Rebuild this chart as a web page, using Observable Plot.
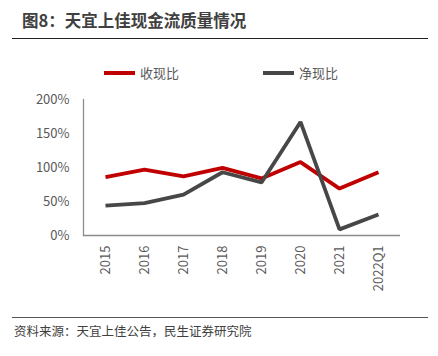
<!DOCTYPE html>
<html><head><meta charset="utf-8">
<script src="https://cdn.jsdelivr.net/npm/d3@7"></script>
<script src="https://cdn.jsdelivr.net/npm/@observablehq/plot@0.6"></script>
<style>
body{margin:0;background:#fff;font-family:"Noto Sans CJK SC","Noto Sans",sans-serif;}
#wrap{position:relative;width:438px;height:356px;overflow:hidden;}
.abs{position:absolute;white-space:nowrap;}
</style></head>
<body><div id="wrap"></div>
<script>
const categories = ["2015","2016","2017","2018","2019","2020","2021","2022Q1"];
const cashRatio = [0.86, 0.97, 0.87, 0.995, 0.84, 1.08, 0.69, 0.93];   // 收现比
const netRatio  = [0.44, 0.475, 0.60, 0.93, 0.78, 1.67, 0.09, 0.31];  // 净现比
const yTicks = [0, 0.5, 1, 1.5, 2];
const seriesNames = ["收现比", "净现比"];
const colors = ["#C00000", "#474747"];

const data = [];
categories.forEach((c, i) => {
  data.push({cat: c, v: cashRatio[i], s: seriesNames[0]});
  data.push({cat: c, v: netRatio[i], s: seriesNames[1]});
});

const plot = Plot.plot({
  width: 438, height: 356,
  marginLeft: 83, marginRight: 38, marginTop: 99, marginBottom: 121,
  style: {fontFamily: '"Noto Sans CJK SC","Noto Sans",sans-serif', fontSize: "13px", color: "#595959", background: "transparent"},
  x: {type: "point", domain: categories, padding: 0.5},
  y: {domain: [0, 2]},
  color: {domain: seriesNames, range: colors},
  marks: [
    Plot.frame({anchor: "left", stroke: "#8c8c8c", strokeWidth: 1.3}),
    Plot.ruleY([0], {stroke: "#8c8c8c", strokeWidth: 1.3}),
    Plot.axisY({ticks: yTicks, tickSize: 0, tickPadding: 14, tickFormat: d => Math.round(d * 100) + "%", label: null, fontSize: 13}),
    Plot.axisX({tickSize: 0, tickPadding: 10, tickRotate: -90, label: null, fontSize: 13}),
    Plot.line(data, {x: "cat", y: "v", z: "s", stroke: "s", strokeWidth: 3.8, strokeLinejoin: "miter", strokeLinecap: "butt"})
  ]
});
const wrap = document.getElementById("wrap");
plot.style.position = "absolute";
plot.style.left = "0px";
plot.style.top = "0px";
wrap.appendChild(plot);

function addDiv(html, css) {
  const d = document.createElement("div");
  d.className = "abs";
  d.innerHTML = html;
  Object.assign(d.style, css);
  wrap.appendChild(d);
  return d;
}
// title
addDiv("图8：天宜上佳现金流质量情况", {left: "22px", top: "9px", fontSize: "16.5px", fontWeight: "bold", color: "#404040", lineHeight: "22px"});
addDiv("", {left: "12px", top: "38px", width: "416px", height: "0px", borderTop: "1.3px solid #222"});
// legend
const legX = [104, 263];
seriesNames.forEach((n, i) => {
  addDiv("", {left: legX[i] + "px", top: "71px", width: "31px", height: "4px", background: colors[i]});
  addDiv(n, {left: (legX[i] + 36) + "px", top: "64px", fontSize: "13px", color: "#595959", lineHeight: "18px"});
});
// footer
addDiv("", {left: "12px", top: "317px", width: "416px", height: "0px", borderTop: "1px solid #555"});
addDiv("资料来源：天宜上佳公告，民生证券研究院", {left: "14px", top: "322px", fontSize: "12.5px", color: "#404040", lineHeight: "18px"});
</script></body></html>
